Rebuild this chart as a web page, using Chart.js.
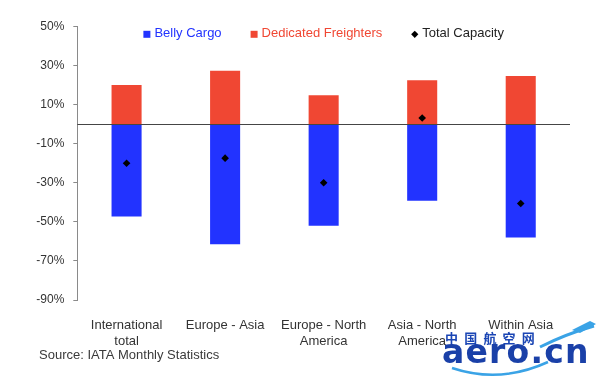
<!DOCTYPE html>
<html>
<head>
<meta charset="utf-8">
<script src="https://cdn.jsdelivr.net/npm/chart.js@4.4.1/dist/chart.umd.min.js"></script>
<style>
  html, body { margin: 0; padding: 0; background: #ffffff; }
  #wrap { position: relative; width: 600px; height: 381px; overflow: hidden; background: #ffffff; }
  #c { position: absolute; left: 0; top: 0; }
  .wm-cn { position: absolute; left: 445px; top: 330px; font-family: "Noto Sans CJK SC", sans-serif; font-weight: 700; font-size: 13px; line-height: 16px; letter-spacing: 6.2px; color: #1a45b4; white-space: nowrap; }
  .wm-en { position: absolute; left: 442px; top: 332px; font-family: "DejaVu Sans", sans-serif; font-weight: 700; font-size: 33px; line-height: 40px; letter-spacing: 1.2px; color: #1a40a8; white-space: nowrap; }
  svg.wm { position: absolute; left: 0; top: 0; }
</style>
</head>
<body>
<div id="wrap">
  <canvas id="c" width="600" height="381"></canvas>
  <svg class="wm" width="600" height="381">
    <path d="M452 368 Q500 384 548 362" stroke="#3aa3e6" stroke-width="2.5" fill="none"/>
    <path d="M540 347 Q566 334 594 326" stroke="#3aa3e6" stroke-width="3" fill="none"/>
    <path d="M572 330 L590 321 L596 324 L580 333 Z" fill="#3aa3e6"/>
  </svg>
  <div class="wm-cn">中国航空网</div>
  <div class="wm-en">aero.cn</div>
</div>
<script>
// ---- data ----
const CATEGORIES = [
  ["International", "total"],
  "Europe - Asia",
  ["Europe - North", "America"],
  ["Asia - North", "America"],
  "Within Asia"
];
const BELLY_CARGO = [-47.2, -61.4, -52.0, -39.2, -58.0];
const DEDICATED_FREIGHTERS = [20.0, 27.3, 14.8, 22.5, 24.7];
const TOTAL_CAPACITY = [-20.0, -17.4, -30.0, 3.2, -40.6];
const Y_TICKS = [-90, -70, -50, -30, -10, 10, 30, 50];
const SERIES_NAMES = ["Belly Cargo", "Dedicated Freighters", "Total Capacity"];
const SOURCE_TEXT = "Source: IATA Monthly Statistics";

const BLUE = "#2233ff";
const RED = "#f04733";
const BLACK = "#000000";
const FONT = '"Liberation Sans", Arial, Helvetica, sans-serif';

Chart.defaults.font.family = FONT;
Chart.defaults.color = "#333333";

// zero line drawn through the value scale
const zeroLine = {
  id: "zeroLine",
  afterDatasetsDraw(chart) {
    const y = chart.scales.y.getPixelForValue(0);
    const { left, right } = chart.chartArea;
    const ctx = chart.ctx;
    ctx.save();
    ctx.strokeStyle = "#454545";
    ctx.lineWidth = 1;
    ctx.beginPath();
    ctx.moveTo(left, Math.round(y) + 0.5);
    ctx.lineTo(right, Math.round(y) + 0.5);
    ctx.stroke();
    ctx.restore();
  }
};

// legend in the Excel style, centred over the plot area
const excelLegend = {
  id: "excelLegend",
  afterDraw(chart) {
    const ctx = chart.ctx;
    const { left, right } = chart.chartArea;
    ctx.save();
    ctx.font = "13px " + FONT;
    ctx.textBaseline = "alphabetic";
    const marker = 7, gapText = 4, gapItem = 29;
    const items = chart.data.datasets.map(ds => ({
      text: ds.label,
      color: ds.type === "line" ? ds.pointBackgroundColor : ds.backgroundColor,
      diamond: ds.type === "line",
      w: ctx.measureText(ds.label).width
    }));
    let total = 0;
    items.forEach((it, i) => { total += marker + gapText + it.w + (i ? gapItem : 0); });
    let x = (left + right) / 2 - total / 2;
    const base = 36.5;
    const cy = 34.3;
    items.forEach(it => {
      ctx.fillStyle = it.color;
      if (it.diamond) {
        ctx.beginPath();
        ctx.moveTo(x + 3.5, cy - 3.6);
        ctx.lineTo(x + 7.1, cy);
        ctx.lineTo(x + 3.5, cy + 3.6);
        ctx.lineTo(x - 0.1, cy);
        ctx.closePath();
        ctx.fill();
      } else {
        ctx.fillRect(x, cy - 3.5, marker, marker);
      }
      ctx.fillStyle = it.color === BLACK ? "#222222" : it.color;
      ctx.fillText(it.text, x + marker + gapText, base);
      x += marker + gapText + it.w + gapItem;
    });
    ctx.fillStyle = "#3a3a3a";
    ctx.fillText(SOURCE_TEXT, 39, 358.5);
    ctx.restore();
  }
};

new Chart(document.getElementById("c"), {
  type: "bar",
  data: {
    labels: CATEGORIES,
    datasets: [
      {
        label: SERIES_NAMES[0],
        data: BELLY_CARGO,
        backgroundColor: BLUE,
        grouped: false,
        order: 2,
        barPercentage: 0.305,
        categoryPercentage: 1.0
      },
      {
        label: SERIES_NAMES[1],
        data: DEDICATED_FREIGHTERS,
        backgroundColor: RED,
        grouped: false,
        order: 2,
        barPercentage: 0.305,
        categoryPercentage: 1.0
      },
      {
        type: "line",
        label: SERIES_NAMES[2],
        data: TOTAL_CAPACITY,
        showLine: false,
        pointStyle: "rectRot",
        pointRadius: 3.8,
        pointHoverRadius: 3.8,
        pointBackgroundColor: BLACK,
        pointBorderColor: BLACK,
        pointBorderWidth: 0,
        order: 0
      }
    ]
  },
  options: {
    responsive: false,
    animation: false,
    devicePixelRatio: 1,
    layout: { padding: { left: 0, right: 30, top: 26.5, bottom: 0 } },
    plugins: {
      legend: { display: false },
      tooltip: { enabled: false },
      title: { display: false }
    },
    scales: {
      x: {
        offset: true,
        grid: { display: false },
        border: { display: false },
        ticks: {
          font: { size: 13 },
          color: "#333333",
          padding: 10,
          maxRotation: 0,
          autoSkip: false
        },
        afterFit(scale) { scale.height = 81; }
      },
      y: {
        min: -90,
        max: 50,
        afterBuildTicks(scale) { scale.ticks = Y_TICKS.map(v => ({ value: v })); },
        grid: {
          drawOnChartArea: false,
          drawTicks: true,
          tickLength: 4,
          color: "#8a8a8a"
        },
        border: { display: true, color: "#8a8a8a", width: 1 },
        ticks: {
          font: { size: 12 },
          color: "#333333",
          padding: 9,
          callback: v => v + "%"
        },
        afterFit(scale) { scale.width = 77.3; }
      }
    }
  },
  plugins: [zeroLine, excelLegend]
});
</script>
</body>
</html>
